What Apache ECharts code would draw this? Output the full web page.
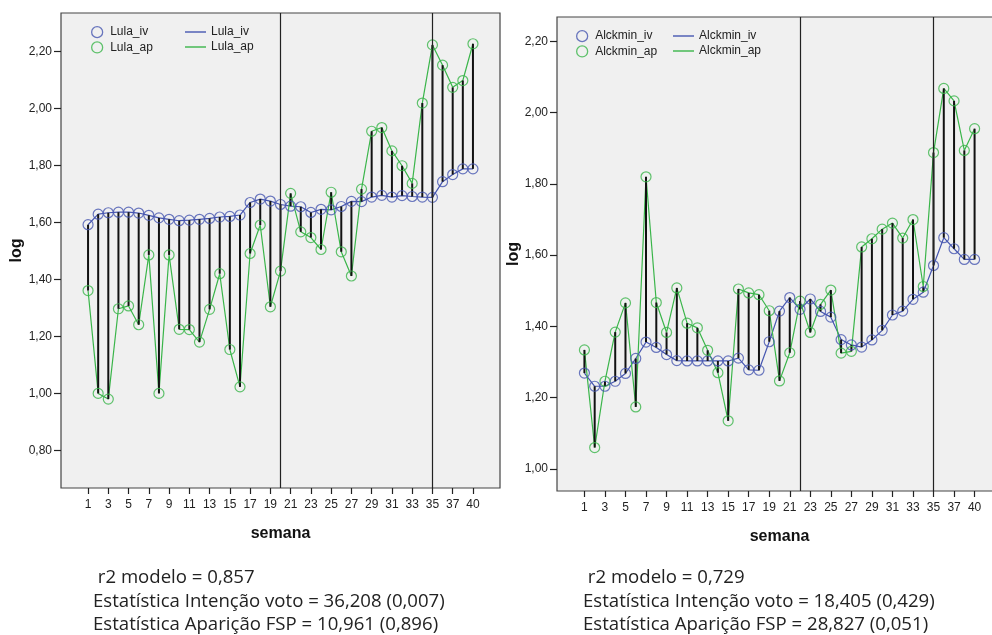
<!DOCTYPE html>
<html>
<head>
<meta charset="utf-8">
<script src="https://cdn.jsdelivr.net/npm/echarts@6/dist/echarts.min.js"></script>
<style>
  html, body { margin: 0; padding: 0; background: #fff; }
  #main { width: 992px; height: 635px; }
</style>
</head>
<body>
<div id="main"></div>
<script>
// semanas (a 39 nao aparece no grafico)
var weeks = [1,2,3,4,5,6,7,8,9,10,11,12,13,14,15,16,17,18,19,20,21,22,23,24,25,26,27,28,29,30,31,32,33,34,35,36,37,38,40];
var xTickLabels = [1,3,5,7,9,11,13,15,17,19,21,23,25,27,29,31,33,35,37,40];

var lulaIv = [1.592,1.629,1.634,1.636,1.636,1.633,1.625,1.616,1.611,1.606,1.608,1.611,1.614,1.619,1.621,1.626,1.670,1.682,1.675,1.663,1.657,1.655,1.635,1.646,1.644,1.656,1.674,1.673,1.689,1.695,1.689,1.694,1.691,1.689,1.688,1.743,1.768,1.788,1.788];
var lulaAp = [1.361,1.000,0.980,1.297,1.307,1.241,1.486,1.000,1.486,1.225,1.224,1.180,1.295,1.420,1.154,1.023,1.491,1.591,1.304,1.429,1.702,1.567,1.547,1.505,1.706,1.497,1.412,1.717,1.920,1.933,1.851,1.799,1.737,2.019,2.223,2.152,2.074,2.098,2.227];
var alckIv = [1.269,1.232,1.232,1.246,1.268,1.310,1.356,1.341,1.321,1.304,1.303,1.303,1.303,1.303,1.303,1.311,1.278,1.277,1.357,1.443,1.481,1.448,1.477,1.442,1.426,1.363,1.348,1.342,1.362,1.389,1.432,1.443,1.476,1.496,1.571,1.649,1.618,1.588,1.588];
var alckAp = [1.334,1.060,1.246,1.384,1.466,1.174,1.820,1.467,1.383,1.508,1.409,1.396,1.333,1.270,1.135,1.505,1.494,1.489,1.444,1.247,1.326,1.471,1.383,1.462,1.502,1.325,1.330,1.623,1.646,1.673,1.690,1.648,1.700,1.512,1.888,2.068,2.033,1.894,1.955];

var lulaBreaks = [20, 35];
var alckBreaks = [22, 35];

var yTicksLula = [0.8,1.0,1.2,1.4,1.6,1.8,2.0,2.2];
var yTicksAlck = [1.0,1.2,1.4,1.6,1.8,2.0,2.2];

var textLula = [' r2 modelo = 0,857', 'Estatística Intenção voto = 36,208 (0,007)', 'Estatística Aparição FSP = 10,961 (0,896)'];
var textAlck = [' r2 modelo = 0,729', 'Estatística Intenção voto = 18,405 (0,429)', 'Estatística Aparição FSP = 28,827 (0,051)'];

var BLUE = '#4656b0';
var GREEN = '#3ab54a';
var FONT = '"Liberation Sans", Arial, sans-serif';

function pairs(vals) {
  return weeks.map(function (w, i) { return [i, vals[i]]; });
}
function drops(a, b) {
  return weeks.map(function (w, i) { return [i, a[i], b[i]]; });
}
function fmtY(v) { return v.toFixed(2).replace('.', ','); }

var xTickIdx = xTickLabels.map(function (w) { return weeks.indexOf(w); });

function xAxisFor(g) {
  return {
    type: 'value', gridIndex: g, min: -2.67, max: 40.67,
    name: 'semana', nameLocation: 'middle', nameGap: 38, nameMoveOverlap: false,
    nameTextStyle: { fontFamily: FONT, fontWeight: 'bold', fontSize: 16, color: '#111' },
    axisLine: { show: false, onZero: false },
    splitLine: { show: false },
    axisTick: { show: true, customValues: xTickIdx, length: 6, lineStyle: { color: '#222', width: 1.2 } },
    axisLabel: {
      customValues: xTickIdx, margin: 11, fontFamily: FONT, fontSize: 12, color: '#222',
      formatter: function (v) { return String(weeks[Math.round(v)]); }
    }
  };
}
function yAxisFor(g, min, max, ticks, gap) {
  return {
    type: 'value', gridIndex: g, min: min, max: max,
    name: 'log', nameLocation: 'middle', nameGap: gap, nameMoveOverlap: false,
    nameTextStyle: { fontFamily: FONT, fontWeight: 'bold', fontSize: 16, color: '#111' },
    axisLine: { show: false, onZero: false },
    splitLine: { show: false },
    axisTick: { show: true, customValues: ticks, length: 7, lineStyle: { color: '#222', width: 1.2 } },
    axisLabel: { customValues: ticks, margin: 9, fontFamily: FONT, fontSize: 12, color: '#222', formatter: fmtY }
  };
}

function seriesFor(g, nameIv, nameAp, iv, ap, breaks) {
  var markers = breaks.map(function (w) { return { xAxis: weeks.indexOf(w) }; });
  return [
    { name: nameIv + ' ', type: 'line', xAxisIndex: g, yAxisIndex: g, data: pairs(iv), symbol: 'none',
      color: BLUE, lineStyle: { color: BLUE, width: 1.2 }, z: 2, animation: false },
    { name: nameAp + ' ', type: 'line', xAxisIndex: g, yAxisIndex: g, data: pairs(ap), symbol: 'none',
      color: GREEN, lineStyle: { color: GREEN, width: 1.2 }, z: 2, animation: false,
      markLine: { silent: true, symbol: ['none', 'none'], label: { show: false },
        lineStyle: { color: '#222', width: 1.2, type: 'solid' }, data: markers, animation: false } },
    { type: 'custom', xAxisIndex: g, yAxisIndex: g, data: drops(iv, ap), z: 3, animation: false,
      encode: { x: 0, y: [1, 2] },
      renderItem: function (params, api) {
        var a = api.coord([api.value(0), api.value(1)]);
        var b = api.coord([api.value(0), api.value(2)]);
        return { type: 'line', shape: { x1: a[0], y1: a[1], x2: b[0], y2: b[1] },
          style: { stroke: '#111', lineWidth: 2 } };
      } },
    { name: nameIv, type: 'scatter', xAxisIndex: g, yAxisIndex: g, data: pairs(iv), symbol: 'circle', symbolSize: 10,
      itemStyle: { color: 'rgba(0,0,0,0)', borderColor: BLUE, borderWidth: 1.2 }, z: 4, animation: false },
    { name: nameAp, type: 'scatter', xAxisIndex: g, yAxisIndex: g, data: pairs(ap), symbol: 'circle', symbolSize: 10,
      itemStyle: { color: 'rgba(0,0,0,0)', borderColor: GREEN, borderWidth: 1.2 }, z: 4, animation: false }
  ];
}

function legendsFor(left1, left2, top, nameIv, nameAp) {
  var common = { orient: 'vertical', top: top, itemGap: 3, padding: 0, selectedMode: false,
    textStyle: { fontFamily: FONT, fontSize: 12, color: '#222' } };
  return [
    Object.assign({}, common, { left: left1, itemWidth: 16, itemHeight: 11,
      data: [
        { name: nameIv, icon: 'circle', itemStyle: { color: 'rgba(0,0,0,0)', borderColor: BLUE, borderWidth: 1.3 } },
        { name: nameAp, icon: 'circle', itemStyle: { color: 'rgba(0,0,0,0)', borderColor: GREEN, borderWidth: 1.3 } }
      ] }),
    Object.assign({}, common, { left: left2, itemWidth: 21, itemHeight: 1.4,
      formatter: function (n) { return n.trim(); },
      data: [
        { name: nameIv + ' ', icon: 'rect' },
        { name: nameAp + ' ', icon: 'rect' }
      ] })
  ];
}

function textBlock(x, lines) {
  var ys = [586, 610, 633];
  return lines.map(function (t, i) {
    return { type: 'text', left: x, top: ys[i] - 18,
      style: { text: t, font: '18.6px "Open Sans", "Noto Sans", sans-serif', fill: '#222' } };
  });
}

var option = {
  backgroundColor: '#fff',
  animation: false,
  grid: [
    { left: 61, top: 13, width: 439, height: 475, show: true, outerBoundsMode: 'none', containLabel: false,
      backgroundColor: '#f0f0f0', borderColor: '#444', borderWidth: 1.2 },
    { left: 557, top: 17, width: 445, height: 474, show: true, outerBoundsMode: 'none', containLabel: false,
      backgroundColor: '#f0f0f0', borderColor: '#444', borderWidth: 1.2 }
  ],
  xAxis: [xAxisFor(0), xAxisFor(1)],
  yAxis: [yAxisFor(0, 0.668, 2.335, yTicksLula, 36), yAxisFor(1, 0.938, 2.2685, yTicksAlck, 35.5)],
  legend: legendsFor(91, 185, 26, 'Lula_iv', 'Lula_ap').concat(legendsFor(576, 673, 30, 'Alckmin_iv', 'Alckmin_ap')),
  series: seriesFor(0, 'Lula_iv', 'Lula_ap', lulaIv, lulaAp, lulaBreaks)
    .concat(seriesFor(1, 'Alckmin_iv', 'Alckmin_ap', alckIv, alckAp, alckBreaks)),
  graphic: textBlock(93, textLula).concat(textBlock(583, textAlck))
};

var myChart = echarts.init(document.getElementById('main'));
myChart.setOption(option);
</script>
</body>
</html>
